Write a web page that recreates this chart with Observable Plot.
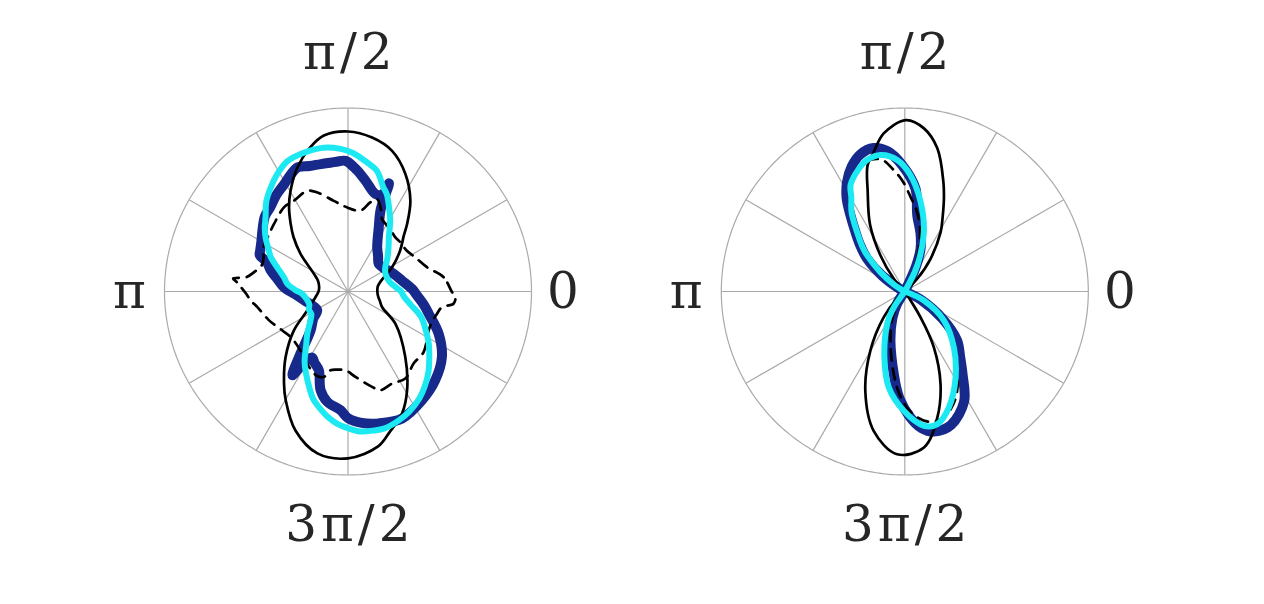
<!DOCTYPE html>
<html><head><meta charset="utf-8">
<script src="https://cdn.jsdelivr.net/npm/d3@7"></script>
<script src="https://cdn.jsdelivr.net/npm/@observablehq/plot@0.6"></script>
<style>html,body{margin:0;padding:0;background:#fff;overflow:hidden} #chart svg text{letter-spacing:4px}</style>
</head><body><div id="chart"></div>
<script>
// ---- data: [angle in degrees, radius (outer ring = 1)] ----
const leftBlack = [[0,0.16],[10,0.165],[20,0.2],[28.8,0.274],[38,0.36],[45,0.43],[48.8,0.489],[55.5,0.6],[63.9,0.712],[72.6,0.803],[81.1,0.849],[90,0.872],[98.8,0.86],[104.9,0.81],[112.2,0.73],[119.7,0.632],[125,0.56],[130.3,0.483],[135,0.42],[141.6,0.33],[152.6,0.209],[162,0.17],[178,0.159],[190,0.18],[198,0.21],[205,0.245],[215.7,0.363],[226.4,0.493],[235.2,0.611],[240.2,0.683],[249.3,0.81],[259.3,0.898],[270,0.909],[281,0.86],[286.4,0.8],[293.9,0.727],[300.9,0.627],[311.2,0.474],[325.8,0.312],[335.3,0.205],[344,0.18],[352,0.165]];
const leftDashed = [[0,0.565],[8.5,0.527],[17.1,0.45],[26.9,0.411],[35,0.39],[43.2,0.391],[48.8,0.392],[56,0.41],[64.8,0.437],[68,0.48],[72.5,0.528],[76,0.5],[81.2,0.446],[90.5,0.458],[98.9,0.5],[107.2,0.565],[112,0.592],[120.8,0.576],[127.3,0.576],[137.6,0.546],[145,0.53],[152,0.52],[157,0.5],[162.5,0.49],[168,0.52],[172,0.56],[173.5,0.63],[175,0.61],[177,0.59],[181,0.557],[185.3,0.532],[189.8,0.501],[200.1,0.458],[210.7,0.416],[218.5,0.399],[230,0.41],[242,0.46],[250,0.49],[254.2,0.484],[257.5,0.44],[262,0.43],[268.2,0.43],[275,0.467],[284.2,0.536],[288.2,0.566],[295.6,0.556],[303.4,0.568],[312.3,0.531],[321.3,0.528],[334.2,0.488],[340,0.487],[346,0.5],[350.5,0.519],[353.4,0.579],[357,0.586]];
const leftMeasured = [[2.4,0.349],[11.5,0.3],[20,0.27],[27.2,0.249],[35,0.23],[42,0.225],[50,0.255],[56.6,0.289],[64.4,0.388],[68.3,0.483],[69.2,0.63],[70.5,0.56],[74.3,0.552],[81,0.611],[86,0.665],[91.1,0.712],[95,0.71],[102,0.71],[107,0.715],[112,0.73],[116,0.71],[120.8,0.68],[126.6,0.655],[132.6,0.625],[138,0.61],[144.1,0.575],[150,0.545],[155,0.528],[157.6,0.52],[160,0.47],[164.8,0.436],[170,0.39],[176.2,0.35],[184.5,0.278],[194.6,0.23],[203,0.205],[211.7,0.197],[218,0.24],[226.1,0.294],[233.2,0.446],[236.4,0.548],[238,0.47],[241.4,0.41],[245,0.43],[249.7,0.458],[254.5,0.558],[259.4,0.612],[266.4,0.648],[270,0.69],[276,0.72],[283.1,0.738],[293.1,0.752],[304.2,0.717],[314.5,0.678],[325.1,0.624],[335,0.545],[344.6,0.456],[350,0.42],[356.7,0.377]];
const leftFit = [[0,0.29],[5,0.262],[12,0.235],[20,0.225],[27,0.228],[33,0.242],[40,0.28],[47.5,0.327],[53,0.37],[59.2,0.449],[64,0.51],[68.2,0.57],[71.3,0.6],[76.5,0.676],[82.2,0.715],[88,0.755],[93,0.778],[99.6,0.795],[106,0.795],[112,0.79],[115,0.783],[121.1,0.747],[126.6,0.706],[132.3,0.662],[137.4,0.61],[142.7,0.57],[147,0.535],[152.7,0.485],[156.1,0.46],[162,0.4],[167.4,0.358],[172.8,0.333],[178,0.29],[182.9,0.25],[190,0.23],[198.1,0.222],[205,0.235],[211.8,0.235],[218,0.26],[226.1,0.32],[232,0.37],[238.3,0.45],[242.7,0.5],[248.5,0.57],[252,0.615],[256.5,0.655],[260.6,0.69],[265.2,0.722],[270,0.745],[275,0.766],[280,0.77],[285,0.772],[291.5,0.755],[297,0.735],[303.8,0.7],[309,0.665],[315,0.62],[321,0.57],[327,0.525],[334,0.47],[341,0.42],[348,0.35],[354,0.31],[359,0.292]];

const rightBlack = [[45,0],[45.7,0.097],[51.8,0.227],[58.9,0.378],[63.3,0.46],[67.2,0.55],[70.6,0.633],[77.2,0.8],[83.3,0.895],[89.7,0.934],[97.6,0.869],[102.5,0.78],[106.4,0.718],[110.3,0.583],[117.5,0.41],[124,0.237],[131,0.09],[134,0],[218,0],[222,0.05],[230.7,0.181],[239.8,0.373],[248.3,0.582],[257.4,0.778],[267.3,0.888],[277,0.857],[284.5,0.709],[291.1,0.541],[297.5,0.343],[301.4,0.165],[304,0]];
const rightDashed = [[60,0],[70,0.2],[77.2,0.37],[82,0.45],[86.5,0.516],[91,0.6],[95.2,0.664],[100,0.73],[106,0.74],[112,0.7],[118,0.64],[123,0.54],[130,0.41],[138,0.26],[145,0.12],[152,0],[232,0],[245,0.16],[255,0.3],[262.4,0.454],[267,0.56],[273,0.66],[280,0.72],[287,0.72],[295,0.65],[303,0.53],[312,0.4],[320,0.28],[330,0.13],[338,0]];
const rightMeasured = [[60,0],[66,0.15],[69.8,0.249],[75,0.33],[80.7,0.42],[84.1,0.564],[91.2,0.689],[97,0.77],[102.3,0.8],[108,0.785],[113,0.74],[117.8,0.675],[121.9,0.6],[125.5,0.51],[129.7,0.421],[134,0.35],[139,0.272],[145,0.15],[152,0.03],[156,0],[232,0],[238,0.08],[245,0.16],[253.7,0.279],[262.4,0.454],[267,0.58],[272.6,0.688],[277,0.75],[281.8,0.78],[289.1,0.77],[298.4,0.68],[304.9,0.55],[310,0.47],[316.9,0.39],[324.3,0.25],[333,0.1],[338,0]];
const rightFit = [[56,0],[64.5,0.157],[72.2,0.34],[80,0.496],[87.2,0.634],[93,0.715],[100,0.755],[106,0.745],[111,0.71],[117,0.651],[119.6,0.59],[123.9,0.52],[128.8,0.415],[133.8,0.33],[136.2,0.284],[141.5,0.17],[147,0.07],[152,0],[232,0],[236,0.12],[241.4,0.2],[252.8,0.376],[260.5,0.53],[269.5,0.65],[278.1,0.739],[283.8,0.744],[290.8,0.676],[300.6,0.544],[311.3,0.405],[323.4,0.266],[334.7,0.115],[338,0]];

const spokeAngles = [0,30,60,90,120,150,180,210,240,270,300,330];
const labelAngles = [0,90,180,270];
const labelTexts = ["0","π/2","π","3π/2"];

// ---- layout ----
const W = 1264, H = 604, K = 183.5;      // px per unit radius
const CX = 347.5, CX2 = 904.3, CY = 291; // panel centres (px)
const shift = (CX2 - CX) / K;
const panels = [0, shift];

const rad = d => d * Math.PI / 180;
const polar = (arr, off) => arr.map(([deg, r]) => ({x: off + r * Math.cos(rad(deg)), y: r * Math.sin(rad(deg))}));

const gridCircle = off => d3.range(0, 361, 1).map(a => ({x: off + Math.cos(rad(a)), y: Math.sin(rad(a))}));
const spokes = off => spokeAngles.map(a => ({x1: off, y1: 0, x2: off + Math.cos(rad(a)), y2: Math.sin(rad(a))}));

const gridColor = "#aaaaaa";
const textColor = "#262626";
const font = "DejaVu Serif";
const fsz = 50;

const marks = [];
for (const off of panels) {
  marks.push(Plot.link(spokes(off), {x1: "x1", y1: "y1", x2: "x2", y2: "y2", stroke: gridColor, strokeWidth: 1.2}));
  marks.push(Plot.line(gridCircle(off), {x: "x", y: "y", stroke: gridColor, strokeWidth: 1.2}));
}
const series = [
  [leftMeasured, rightMeasured, {stroke: "#18298c", strokeWidth: 10}],
  [leftBlack, rightBlack, {stroke: "#000", strokeWidth: 2.7}],
  [leftDashed, rightDashed, {stroke: "#000", strokeWidth: 2.7, strokeDasharray: "11,8"}],
  [leftFit, rightFit, {stroke: "#1de9f2", strokeWidth: 6}]
];
for (const [l, r, style] of series) {
  marks.push(Plot.line(polar(l, 0), {x: "x", y: "y", curve: "catmull-rom-closed", strokeLinejoin: "round", strokeLinecap: "round", ...style}));
  marks.push(Plot.line(polar(r, shift), {x: "x", y: "y", curve: "catmull-rom-closed", strokeLinejoin: "round", strokeLinecap: "round", ...style}));
}
// angle labels
for (const off of panels) {
  const lab = labelAngles.map((a, i) => ({a, t: labelTexts[i]}));
  const common = {text: "t", fill: textColor, fontSize: fsz, fontFamily: font};
  marks.push(Plot.text(lab.filter(d => d.a === 0), {...common, x: () => off + 1.085, y: () => 0, textAnchor: "start"}));
  marks.push(Plot.text(lab.filter(d => d.a === 180), {...common, x: () => off - 1.08, y: () => 0, textAnchor: "end"}));
  marks.push(Plot.text(lab.filter(d => d.a === 90), {...common, x: () => off + 0.01, y: () => 1.3}));
  marks.push(Plot.text(lab.filter(d => d.a === 270), {...common, x: () => off + 0.01, y: () => -1.275}));
}

const chart = Plot.plot({
  width: W, height: H,
  margin: 0,
  x: {type: "linear", domain: [-CX / K, (W - CX) / K], range: [0, W], axis: null},
  y: {type: "linear", domain: [-(H - CY) / K, CY / K], range: [H, 0], axis: null},
  style: {background: "#fff"},
  marks
});
document.getElementById("chart").append(chart);
</script>
</body></html>
